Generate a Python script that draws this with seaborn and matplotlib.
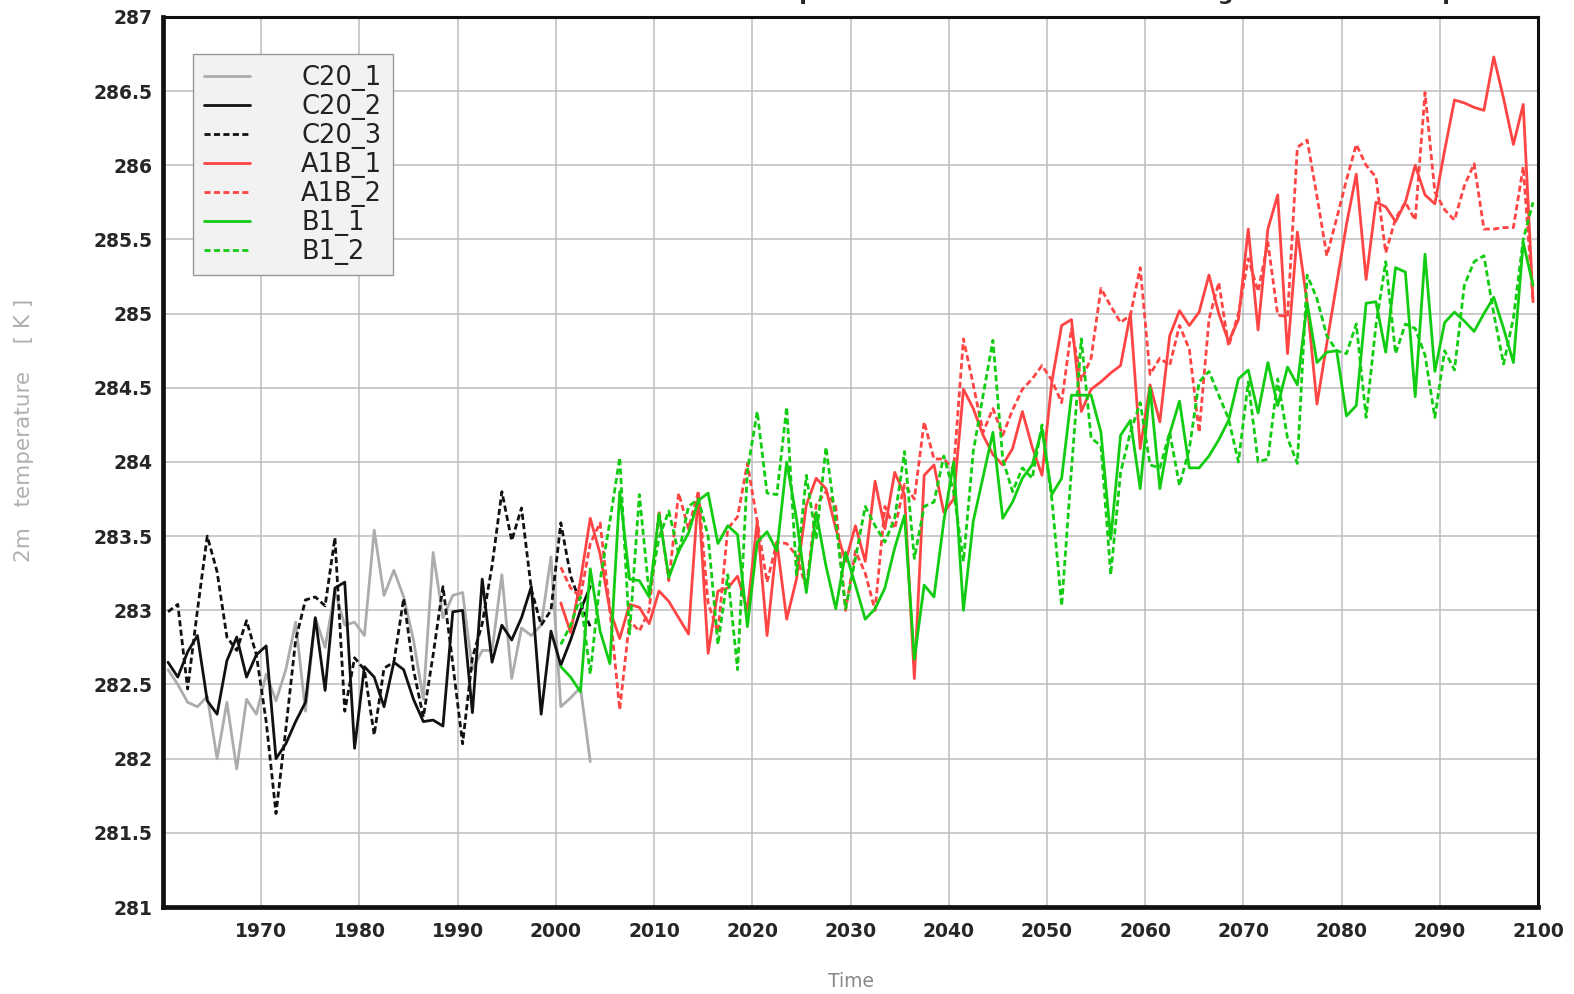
import numpy as np
import pandas as pd
import seaborn as sns
import matplotlib.pyplot as plt
from matplotlib.ticker import MultipleLocator, FuncFormatter

# annual global mean 2m temperature [K]
c20_years = np.arange(1960, 2004)
scen_years = np.arange(2000, 2100)

c20_1 = [282.6, 282.5, 282.38, 282.35, 282.42, 282.0, 282.38, 281.93, 282.4, 282.3,
         282.57, 282.39, 282.6, 282.92, 282.32, 282.95, 282.75, 283.13, 282.9, 282.92,
         282.83, 283.54, 283.1, 283.27, 283.09, 282.8, 282.4, 283.39, 282.95, 283.1,
         283.12, 282.6, 282.73, 282.73, 283.24, 282.54, 282.88, 282.83, 282.9, 283.36,
         282.35, 282.41, 282.48, 281.98]
c20_2 = [282.65, 282.55, 282.72, 282.83, 282.39, 282.3, 282.66, 282.82, 282.55, 282.7,
         282.76, 282.0, 282.1, 282.25, 282.38, 282.95, 282.46, 283.15, 283.19, 282.07,
         282.62, 282.55, 282.35, 282.65, 282.6, 282.4, 282.25, 282.26, 282.22, 282.99,
         283.0, 282.31, 283.21, 282.65, 282.9, 282.8, 282.95, 283.16, 282.3, 282.86,
         282.63, 282.8, 283.0, 283.16]
c20_3 = [282.99, 283.04, 282.47, 283.0, 283.5, 283.26, 282.82, 282.73, 282.93, 282.7,
         282.25, 281.63, 282.2, 282.8, 283.07, 283.09, 283.03, 283.49, 282.32, 282.68,
         282.6, 282.16, 282.61, 282.65, 283.08, 282.6, 282.28, 282.7, 283.16, 282.64,
         282.1, 282.68, 282.91, 283.3, 283.8, 283.47, 283.69, 283.14, 282.9, 283.0,
         283.59, 283.23, 283.05, 282.89]

a1b_1 = [283.05, 282.85, 283.2, 283.62, 283.38, 283.0, 282.81, 283.04, 283.02, 282.91,
         283.13, 283.06, 282.95, 282.84, 283.79, 282.71, 283.13, 283.15, 283.23, 283.0,
         283.6, 282.83, 283.46, 282.94, 283.21, 283.71, 283.89, 283.82, 283.55, 283.33,
         283.57, 283.33, 283.87, 283.55, 283.93, 283.78, 282.54, 283.91, 283.98, 283.66,
         283.75, 284.49, 284.36, 284.18, 284.05, 283.98, 284.09, 284.34, 284.1, 283.91,
         284.54, 284.92, 284.96, 284.34, 284.49, 284.54, 284.6, 284.65, 285.0, 284.09,
         284.52, 284.27, 284.85, 285.02, 284.92, 285.01, 285.26, 285.0, 284.81, 284.96,
         285.57, 284.89, 285.57, 285.8, 284.73, 285.55, 285.07, 284.39, 284.8, 285.2,
         285.6, 285.94, 285.23, 285.75, 285.72, 285.62, 285.75, 286.0, 285.8, 285.74,
         286.1, 286.44, 286.42, 286.39, 286.37, 286.73, 286.45, 286.14, 286.41, 285.08]
a1b_2 = [283.29, 283.15, 283.09, 283.45, 283.59, 283.0, 282.33, 282.93, 282.86, 283.0,
         283.67, 283.2, 283.79, 283.55, 283.8, 283.05, 282.85, 283.55, 283.63, 283.99,
         283.6, 283.19, 283.46, 283.45, 283.37, 283.15, 283.71, 283.8, 283.7, 283.0,
         283.4, 283.25, 283.0, 283.7, 283.55, 283.85, 283.75, 284.27, 284.02, 284.02,
         283.95, 284.83, 284.52, 284.2, 284.36, 284.18, 284.35, 284.49, 284.56, 284.65,
         284.55, 284.4, 284.9, 284.55, 284.7, 285.17, 285.05, 284.94, 284.99, 285.31,
         284.59, 284.7, 284.65, 284.92, 284.76, 284.2, 284.96, 285.21, 284.78, 285.0,
         285.37, 285.15, 285.48, 284.99, 284.98, 286.12, 286.17, 285.79, 285.39, 285.64,
         285.9, 286.14, 286.0, 285.92, 285.41, 285.64, 285.75, 285.63, 286.49, 285.82,
         285.7, 285.63, 285.86, 286.01, 285.57, 285.57, 285.58, 285.58, 285.99, 285.08]
b1_1 = [282.62, 282.55, 282.45, 283.28, 282.86, 282.64, 283.8, 283.21, 283.2, 283.09,
        283.65, 283.22, 283.4, 283.52, 283.74, 283.79, 283.45, 283.57, 283.51, 282.89,
        283.46, 283.53, 283.4, 284.0, 283.62, 283.12, 283.66, 283.3, 283.01, 283.39,
        283.17, 282.94, 283.01, 283.15, 283.42, 283.64, 282.67, 283.17, 283.09, 283.6,
        284.0, 283.0, 283.6, 283.9, 284.2, 283.62, 283.73, 283.89, 283.98, 284.22,
        283.78, 283.89, 284.45, 284.45, 284.45, 284.2, 283.48, 284.18, 284.28, 283.82,
        284.5, 283.82, 284.19, 284.41, 283.96, 283.96, 284.04, 284.15, 284.28, 284.56,
        284.62, 284.33, 284.67, 284.38, 284.64, 284.52, 285.07, 284.67, 284.74, 284.75,
        284.31, 284.38, 285.07, 285.08, 284.74, 285.31, 285.28, 284.44, 285.4, 284.61,
        284.94, 285.01, 284.95, 284.88, 285.0, 285.11, 284.9, 284.67, 285.48, 285.19]
b1_2 = [282.77, 282.9, 283.09, 282.57, 283.2, 283.6, 284.03, 282.84, 283.78, 283.11,
        283.49, 283.67, 283.38, 283.7, 283.75, 283.5, 282.77, 283.24, 282.6, 283.94,
        284.34, 283.79, 283.78, 284.37, 283.24, 283.91, 283.48, 284.1, 283.6, 283.01,
        283.35, 283.7, 283.57, 283.46, 283.62, 284.07, 283.35, 283.7, 283.73, 284.04,
        283.8, 283.33, 284.07, 284.45, 284.82, 284.02, 283.8, 283.96, 283.89, 284.25,
        283.75, 283.03, 283.95, 284.83, 284.16, 284.11, 283.24, 283.93, 284.2, 284.4,
        283.98, 283.96, 284.2, 283.84, 284.09, 284.54, 284.61, 284.45, 284.29, 284.0,
        284.54, 284.0, 284.02, 284.56, 284.16, 283.99, 285.26, 285.1, 284.85, 284.75,
        284.73, 284.93, 284.3, 284.92, 285.35, 284.73, 284.93, 284.9, 284.72, 284.3,
        284.75, 284.62, 285.19, 285.35, 285.39, 285.0, 284.66, 284.97, 285.5, 285.75]

runs = [
    ("C20_1", c20_years, c20_1, "#acacac", False),
    ("C20_2", c20_years, c20_2, "#111111", False),
    ("C20_3", c20_years, c20_3, "#111111", True),
    ("A1B_1", scen_years, a1b_1, "#ff4444", False),
    ("A1B_2", scen_years, a1b_2, "#ff4444", True),
    ("B1_1", scen_years, b1_1, "#11cc11", False),
    ("B1_2", scen_years, b1_2, "#11cc11", True),
]

sns.set_style("white")
plt.rcParams['font.family'] = ['DejaVu Sans']

fig = plt.figure(figsize=(15.74, 9.94), dpi=100)
ax = fig.add_axes([0.1036, 0.0875, 0.8735, 0.8955])

for name, yrs, vals, color, dashed in runs:
    # annual means plotted at mid-year
    sns.lineplot(x=yrs + 0.5, y=vals, ax=ax, color=color, lw=2.0, label=name)
    if dashed:
        ax.lines[-1].set_dashes([2.2, 1.2])

ax.set_xlim(1960, 2100)
ax.set_ylim(281, 287)
ax.yaxis.set_major_locator(MultipleLocator(0.5))
ax.yaxis.set_major_formatter(FuncFormatter(lambda v, p: f"{v:g}"))
ax.set_xticks(np.arange(1970, 2101, 10))
ax.grid(True, color="#bdbdbd", lw=1.1)
ax.set_axisbelow(True)

ax.tick_params(axis="both", direction="out", length=4, width=1, color="#555555",
               labelsize=13.5)
ax.tick_params(axis="x", pad=7)
for lab in ax.get_xticklabels() + ax.get_yticklabels():
    lab.set_fontweight("bold")

for side, sp in ax.spines.items():
    sp.set_visible(True)
    sp.set_color("#111111")
    sp.set_linewidth(3.4 if side in ("left", "bottom") else 2.2)

ax.set_xlabel("Time", color="#888888", fontsize=13.5)
ax.xaxis.set_label_coords(0.5, -0.073)
ax.set_ylabel("2m   temperature    [ K ]", color="#b0b0b0", fontsize=15.5)
ax.yaxis.set_label_coords(-0.094, 0.535)

leg = ax.legend(loc="upper left", bbox_to_anchor=(0.022, 0.958), borderaxespad=0,
                fontsize=18.5, frameon=True, fancybox=False, framealpha=1,
                facecolor="#f2f2f2", edgecolor="#9a9a9a", handlelength=1.8,
                handletextpad=2.0, labelspacing=0.12, borderpad=0.4)
for t in leg.get_texts():
    t.set_color("#222222")

# title sits above the figure edge; only its descenders remain visible
fig.text(0.311, 1.0, "ECHAM5 MPI-OM 2m temperature - ensemble mean of the global  mean  temperature",
         fontsize=15.8, fontweight="bold", va="baseline", ha="left")

fig.savefig("out.png", dpi=100)
